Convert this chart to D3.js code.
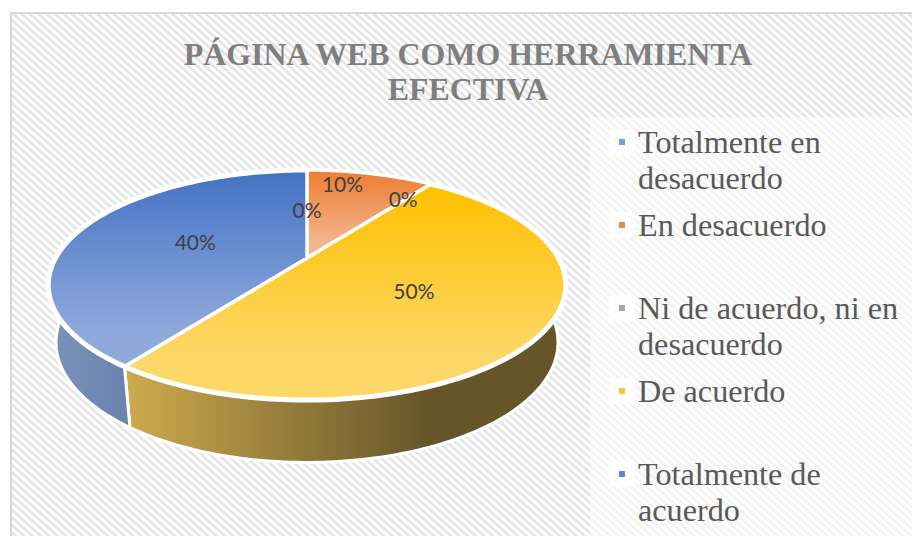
<!DOCTYPE html>
<html><head><meta charset="utf-8">
<script src="https://cdnjs.cloudflare.com/ajax/libs/d3/7.8.5/d3.min.js"></script>
<style>html,body{margin:0;padding:0;background:#fff;overflow:hidden}svg{display:block}</style>
</head><body><svg id="c" width="912" height="536"></svg>
<script>
const titleLines = ["PÁGINA WEB COMO HERRAMIENTA", "EFECTIVA"];
const categories = ["Totalmente en desacuerdo", "En desacuerdo", "Ni de acuerdo, ni en desacuerdo", "De acuerdo", "Totalmente de acuerdo"];
const legendLines = [["Totalmente en", "desacuerdo"], ["En desacuerdo"], ["Ni de acuerdo, ni en", "desacuerdo"], ["De acuerdo"], ["Totalmente de", "acuerdo"]];
const values = [0, 10, 0, 50, 40];
const markerColors = ["#6fa5de", "#ee8a4e", "#a9a9a9", "#ffc033", "#6087c9"];
const topFrom = ["#5b9bd5", "#ed7d31", "#a5a5a5", "#ffc000", "#4472c4"];
const topTo = ["#9dc3e6", "#f4b48c", "#c9c9c9", "#fcd869", "#8fa9dc"];
const wallStops = [null, null, null, ["#cdab4e", "#655529"], ["#7a92bc", "#6a84ae"]];
const labelRadius = [0.48, 0.85, 0.76, 0.49, 0.47];
const labelShift = [0, -20, -2, 0, -3];

const svg = d3.select("#c");
const defs = svg.append("defs");

const hatch = defs.append("pattern").attr("id", "hatch").attr("patternUnits", "userSpaceOnUse")
  .attr("width", 5.6).attr("height", 5.6).attr("patternTransform", "rotate(42)");
hatch.append("rect").attr("width", 5.6).attr("height", 5.6).attr("fill", "#ffffff");
hatch.append("rect").attr("width", 5.6).attr("height", 2.8).attr("fill", "#e6e6e6");

svg.append("rect").attr("x", 11).attr("y", 13).attr("width", 910).attr("height", 540)
  .attr("fill", "url(#hatch)").attr("stroke", "#d9d9d9").attr("stroke-width", 2);

svg.append("rect").attr("x", 590).attr("y", 117).attr("width", 322).attr("height", 419)
  .attr("fill", "#fff").attr("opacity", 0.5);

svg.append("g").selectAll("text").data(titleLines).join("text")
  .attr("x", 468).attr("y", (d, i) => 65 + i * 35)
  .attr("text-anchor", "middle")
  .attr("font-family", "'Liberation Serif'").attr("font-weight", "bold").attr("font-size", 31.9)
  .attr("fill", "#7f7f7f").text(d => d);

const cx = 307, apexY = 258, Rx = 251.5, Ry = 108.7, K = 0.235, depth = 56, bottomScale = 0.97;
const w = a => 1 + K * Math.cos(a);
const topPt = (a, r = 1) => {
  const ww = 1 + K * r * Math.cos(a);
  return [cx + Rx * r * Math.sin(a) / ww, apexY - Ry * r * Math.cos(a) / ww];
};
const botPt = a => {
  const p = topPt(a);
  return [cx + (p[0] - cx) * bottomScale, p[1] + depth / Math.pow(w(a), 0.4)];
};
const arcAngles = (a0, a1) => {
  const n = Math.max(2, Math.ceil((a1 - a0) / 0.02));
  return d3.range(n + 1).map(i => a0 + (a1 - a0) * i / n);
};

const pie = d3.pie().sort(null).value(d => d);
const arcs = pie(values);
const line = d3.line();
const fmt = d3.format(".0%");
const total = d3.sum(values);

const facePts = d => [topPt(0, 0)].concat(arcAngles(d.startAngle, d.endAngle).map(a => topPt(a)));

arcs.forEach((d, i) => {
  const ys = d3.extent(facePts(d), p => p[1]);
  const g = defs.append("linearGradient").attr("id", "top" + i)
    .attr("gradientUnits", "userSpaceOnUse").attr("x1", 0).attr("x2", 0).attr("y1", ys[0]).attr("y2", ys[1]);
  g.append("stop").attr("offset", 0).attr("stop-color", topFrom[i]);
  g.append("stop").attr("offset", 0.82).attr("stop-color", topTo[i]);
  if (wallStops[i]) {
    const s = defs.append("linearGradient").attr("id", "wall" + i)
      .attr("gradientUnits", "userSpaceOnUse").attr("x1", i === 3 ? 125 : 50).attr("x2", i === 3 ? 430 : 127).attr("y1", 0).attr("y2", 0);
    s.append("stop").attr("offset", 0).attr("stop-color", wallStops[i][0]);
    s.append("stop").attr("offset", 1).attr("stop-color", wallStops[i][1]);
  }
});

const shown = arcs.map((d, i) => ({d, i})).filter(o => o.d.value > 0);
svg.append("g").selectAll("path").data(shown.filter(o => wallStops[o.i])).join("path")
  .attr("d", o => {
    const as = arcAngles(o.d.startAngle, o.d.endAngle);
    return line(as.map(a => topPt(a)).concat(as.slice().reverse().map(botPt))) + "Z";
  })
  .attr("fill", o => `url(#wall${o.i})`).attr("stroke", "#fff").attr("stroke-width", 3).attr("stroke-linejoin", "round");

svg.append("g").selectAll("path").data(shown).join("path")
  .attr("d", o => line(facePts(o.d)) + "Z")
  .attr("fill", o => `url(#top${o.i})`).attr("stroke", "#fff").attr("stroke-width", 3.5).attr("stroke-linejoin", "round");

// thicker white rim over the joint between faces and walls
svg.append("g").selectAll("path").data(shown.filter(o => wallStops[o.i])).join("path")
  .attr("d", o => line(arcAngles(o.d.startAngle, o.d.endAngle).map(a => topPt(a))))
  .attr("fill", "none").attr("stroke", "#fff").attr("stroke-width", 5);

svg.append("g").selectAll("text").data(arcs).join("text")
  .attr("x", (d, i) => topPt((d.startAngle + d.endAngle) / 2, labelRadius[i])[0] + labelShift[i])
  .attr("y", (d, i) => topPt((d.startAngle + d.endAngle) / 2, labelRadius[i])[1])
  .attr("dy", "0.35em").attr("text-anchor", "middle")
  .attr("font-family", "Lato").attr("font-size", 21).attr("fill", "#404040")
  .text(d => fmt(d.value / total));

const rowY = d3.scalePoint().domain(categories).range([142, 474]);
const lg = svg.append("g").selectAll("g").data(categories).join("g")
  .attr("transform", d => `translate(622,${rowY(d)})`);
lg.append("rect").attr("x", -13).attr("y", -13).attr("width", 26).attr("height", 26).attr("rx", 3).attr("fill", "#fff").attr("opacity", .8);
lg.append("rect").attr("x", -3).attr("y", -3).attr("width", 6).attr("height", 6)
  .attr("fill", (d, i) => markerColors[i]);
lg.each(function(d, i) {
  d3.select(this).selectAll("text").data(legendLines[i]).join("text")
    .attr("x", 16).attr("y", (t, j) => 10.5 + j * 36.5)
    .attr("font-family", "'Liberation Serif'").attr("font-size", 32.2).attr("fill", "#595959").text(t => t);
});
</script></body></html>
